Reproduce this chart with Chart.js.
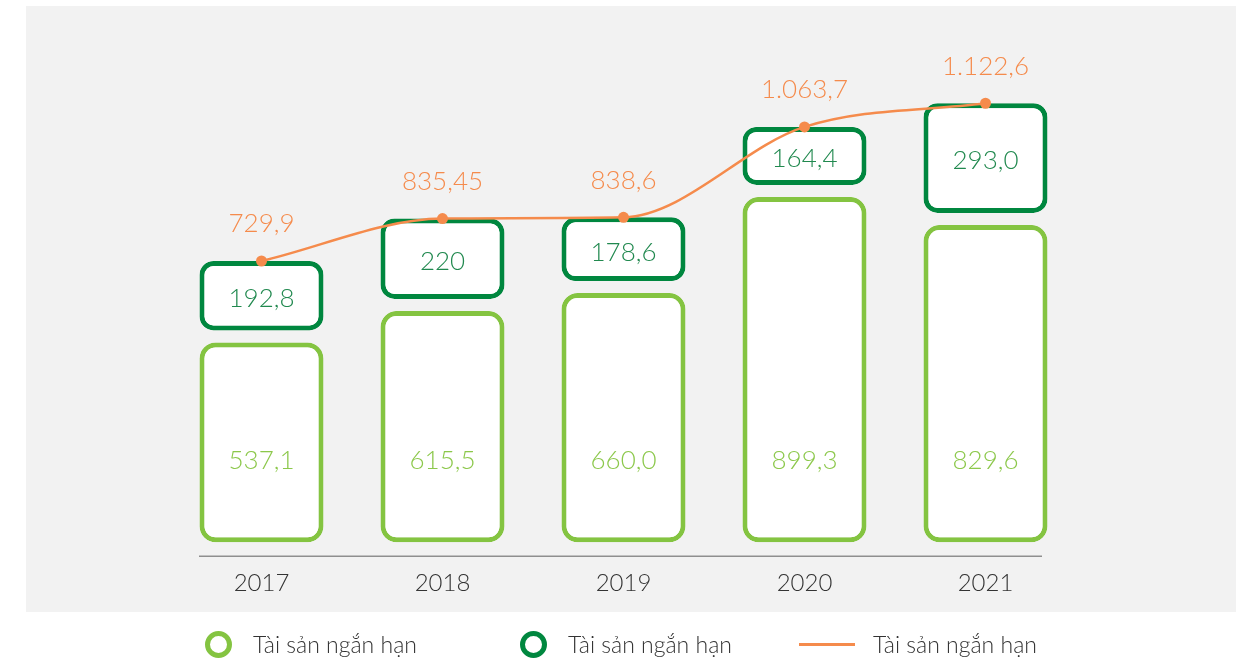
<!DOCTYPE html>
<html>
<head>
<meta charset="utf-8">
<script src="https://cdn.jsdelivr.net/npm/chart.js@4/dist/chart.umd.min.js"></script>
<style>
  html, body { margin: 0; padding: 0; background: #ffffff; }
  #wrap { position: relative; width: 1254px; height: 661px; overflow: hidden; }
  #c { position: absolute; left: 0; top: 0; }
  .lg { position: absolute; top: 628px; height: 32px; display: flex; align-items: center;
        font-family: Lato, sans-serif; font-weight: 300; font-size: 23px; color: #333; white-space: nowrap; }
  .ring { width: 17px; height: 17px; border-radius: 50%; border: 5px solid; background: #fff; margin-right: 21px; }
  .ln { width: 56px; height: 3px; margin-right: 18px; }
</style>
</head>
<body>
<div id="wrap">
  <canvas id="c" width="1254" height="661"></canvas>
</div>
<script>
// ---- data ----
const categories = ['2017', '2018', '2019', '2020', '2021'];
const lowerValues = [537.1, 615.5, 660.0, 899.3, 829.6];
const upperValues = [192.8, 220, 178.6, 164.4, 293.0];
const totalValues = [729.9, 835.45, 838.6, 1063.7, 1122.6];
const lowerDecimals = [1, 1, 1, 1, 1];
const upperDecimals = [1, 0, 1, 1, 1];
const totalDecimals = [1, 2, 1, 1, 1];
const seriesNames = ['Tài sản ngắn hạn', 'Tài sản ngắn hạn', 'Tài sản ngắn hạn'];

// ---- styles ----
const LIGHT = '#84c441';
const DARK = '#00873f';
const ORANGE = '#f58b4c';
const LIGHT_TEXT = '#8cc84b';
const DARK_TEXT = '#21894f';
const FONT = 'Lato, sans-serif';

function fmt(v, d) {
  return v.toLocaleString('de-DE', { minimumFractionDigits: d, maximumFractionDigits: d });
}

const panelPlugin = {
  id: 'panel',
  beforeDraw(chart) {
    const ctx = chart.ctx;
    ctx.save();
    ctx.fillStyle = '#f2f2f2';
    ctx.fillRect(26, 6, 1210, 606);
    ctx.restore();
  }
};

const insetPlugin = {
  id: 'inset',
  afterDatasetsUpdate(chart) {
    const m0 = chart.getDatasetMeta(0);
    const m1 = chart.getDatasetMeta(1);
    m0.data.forEach(el => { el.base -= 12; el.y += 4; });
    m1.data.forEach(el => { el.base -= 8; });
  }
};

const axisLinePlugin = {
  id: 'axisLine',
  beforeDatasetsDraw(chart) {
    const ctx = chart.ctx;
    const y = chart.scales.y.getPixelForValue(0) + 2;
    ctx.save();
    ctx.strokeStyle = '#8f8f8f';
    ctx.lineWidth = 1.5;
    ctx.beginPath();
    ctx.moveTo(chart.chartArea.left + 28, y);
    ctx.lineTo(chart.chartArea.right - 34, y);
    ctx.stroke();
    ctx.restore();
  }
};

const labelPlugin = {
  id: 'valueLabels',
  afterDatasetsDraw(chart) {
    const ctx = chart.ctx;
    const zero = chart.scales.y.getPixelForValue(0);
    ctx.save();
    ctx.textAlign = 'center';
    ctx.textBaseline = 'middle';
    ctx.font = '300 26px ' + FONT;
    chart.getDatasetMeta(0).data.forEach((el, i) => {
      ctx.fillStyle = LIGHT_TEXT;
      ctx.fillText(fmt(lowerValues[i], lowerDecimals[i]), el.x, zero - 94);
    });
    chart.getDatasetMeta(1).data.forEach((el, i) => {
      ctx.fillStyle = DARK_TEXT;
      ctx.fillText(fmt(upperValues[i], upperDecimals[i]), el.x, (el.y + el.base) / 2 + 3);
    });
    chart.getDatasetMeta(2).data.forEach((el, i) => {
      ctx.fillStyle = ORANGE;
      ctx.fillText(fmt(totalValues[i], totalDecimals[i]), el.x, el.y - 37);
    });
    ctx.restore();
  }
};

const R = (r) => ({ topLeft: r, topRight: r, bottomLeft: r, bottomRight: r });

const chart = new Chart(document.getElementById('c'), {
  data: {
    labels: categories,
    datasets: [
      {
        type: 'bar', label: seriesNames[0], data: lowerValues, stack: 's',
        backgroundColor: '#ffffff', borderColor: LIGHT, borderWidth: 5,
        borderRadius: R(16), borderSkipped: false, order: 2
      },
      {
        type: 'bar', label: seriesNames[1], data: upperValues, stack: 's',
        backgroundColor: '#ffffff', borderColor: DARK, borderWidth: 5,
        borderRadius: R(14), borderSkipped: false, order: 2
      },
      {
        type: 'line', label: seriesNames[2], data: totalValues,
        borderColor: ORANGE, backgroundColor: ORANGE, borderWidth: 2.5,
        pointRadius: 5.5, pointBackgroundColor: ORANGE, pointBorderWidth: 0,
        cubicInterpolationMode: 'monotone', order: 1
      }
    ]
  },
  options: {
    responsive: false,
    devicePixelRatio: 1,
    animation: false,
    events: [],
    layout: { padding: { left: 171, right: 178, top: 32, bottom: 48 } },
    datasets: { bar: { barPercentage: 0.685, categoryPercentage: 1 } },
    plugins: {
      legend: { display: false },
      tooltip: { enabled: false }
    },
    scales: {
      x: {
        stacked: true,
        grid: { display: false, drawTicks: false },
        border: { display: false },
        ticks: { color: '#333333', padding: 15, font: { family: FONT, size: 24, weight: 300 } }
      },
      y: {
        stacked: true,
        display: false,
        min: 0,
        max: 1300
      }
    }
  },
  plugins: [panelPlugin, insetPlugin, axisLinePlugin, labelPlugin]
});

// ---- HTML legend built from datasets ----
const legendLefts = [205, 520, 799];
const wrap = document.getElementById('wrap');
chart.data.datasets.forEach((ds, i) => {
  const item = document.createElement('div');
  item.className = 'lg';
  item.style.left = legendLefts[i] + 'px';
  const mark = document.createElement('span');
  if (ds.type === 'bar') {
    mark.className = 'ring';
    mark.style.borderColor = ds.borderColor;
  } else {
    mark.className = 'ln';
    mark.style.background = ds.borderColor;
  }
  const txt = document.createElement('span');
  txt.textContent = ds.label;
  item.appendChild(mark);
  item.appendChild(txt);
  wrap.appendChild(item);
});
</script>
</body>
</html>
